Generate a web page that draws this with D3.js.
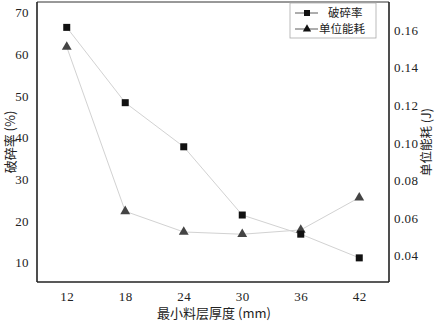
<!DOCTYPE html>
<html>
<head>
<meta charset="utf-8">
<script src="https://cdn.jsdelivr.net/npm/d3@7"></script>
<style>
  body { margin: 0; background: #fff; }
</style>
</head>
<body>
<div id="chart"></div>
<script>
// data
const thickness = [12, 18, 24, 30, 36, 42]
const breakRate = [66.5, 48.4, 37.8, 21.4, 16.8, 11.1]
const energy = [0.151, 0.0636, 0.0526, 0.0514, 0.0537, 0.0709]
const leftTicks = [10, 20, 30, 40, 50, 60, 70]
const rightTicks = [0.04, 0.06, 0.08, 0.10, 0.12, 0.14, 0.16]

const serif = 'Liberation Serif'
const cjk = "'Noto Sans CJK SC', sans-serif"

const width = 435
const height = 321
const margin = { top: 2, left: 37, right: 46, bottom: 39 }
const w = width - margin.left - margin.right
const h = height - margin.top - margin.bottom

const svg = d3.select('#chart')
  .append('svg')
  .attr('width', width)
  .attr('height', height)

const g = svg.append('g')
  .attr('transform', 'translate(' + margin.left + ',' + margin.top + ')')

const x = d3.scaleLinear().domain([8.95, 45.05]).range([0, w])
const yL = d3.scaleLinear().domain([5.3, 72.6]).range([h, 0])
const yR = d3.scaleLinear().domain([0.026, 0.1749]).range([h, 0])

const rows = thickness.map((t, i) => ({ t: t, b: breakRate[i], e: energy[i] }))

// lines
const lineB = d3.line().x(d => x(d.t)).y(d => yL(d.b))
const lineE = d3.line().x(d => x(d.t)).y(d => yR(d.e))

g.append('path').datum(rows).attr('d', lineE)
  .attr('fill', 'none').attr('stroke', '#d2d2d2').attr('stroke-width', 1)
g.append('path').datum(rows).attr('d', lineB)
  .attr('fill', 'none').attr('stroke', '#d2d2d2').attr('stroke-width', 1)

// markers
const tri = d3.symbol().type(d3.symbolTriangle).size(42)
g.selectAll('.tri').data(rows).enter().append('path')
  .attr('class', 'tri')
  .attr('d', tri)
  .attr('transform', d => 'translate(' + x(d.t) + ',' + yR(d.e) + ')')
  .attr('fill', '#444')

g.selectAll('.sq').data(rows).enter().append('rect')
  .attr('class', 'sq')
  .attr('x', d => x(d.t) - 3.5)
  .attr('y', d => yL(d.b) - 3.5)
  .attr('width', 7).attr('height', 7)
  .attr('fill', '#111')

// frame
g.append('line').attr('x1', 0).attr('x2', w).attr('y1', 0).attr('y2', 0)
  .attr('stroke', '#333').attr('stroke-width', 1)
g.append('line').attr('x1', 0).attr('x2', 0).attr('y1', 0).attr('y2', h)
  .attr('stroke', '#222').attr('stroke-width', 1.6)
g.append('line').attr('x1', w).attr('x2', w).attr('y1', 0).attr('y2', h)
  .attr('stroke', '#222').attr('stroke-width', 1.6)
g.append('line').attr('x1', 0).attr('x2', w).attr('y1', h).attr('y2', h)
  .attr('stroke', '#222').attr('stroke-width', 1.6)

// axes (labels only, no tick marks)
const leftAxis = d3.axisLeft(yL).tickValues(leftTicks).tickSize(0).tickPadding(8)
g.append('g').attr('class', 'axis').call(leftAxis)

const rightAxis = d3.axisRight(yR).tickValues(rightTicks).tickSize(0).tickPadding(5)
  .tickFormat(d3.format('.2f'))
g.append('g').attr('class', 'axis').attr('transform', 'translate(' + w + ',0)').call(rightAxis)

const bottomAxis = d3.axisBottom(x).tickValues(thickness).tickSize(0).tickPadding(10)
g.append('g').attr('class', 'axis').attr('transform', 'translate(0,' + h + ')').call(bottomAxis)

g.selectAll('.axis').attr('font-family', serif).attr('font-size', 13)
g.selectAll('.axis .domain').remove()
g.selectAll('.axis text')
  .style('fill', '#222')
  .style('letter-spacing', '0.4px')

// axis titles
svg.append('text')
  .attr('transform', 'translate(15,' + (margin.top + h / 2) + ') rotate(-90)')
  .attr('text-anchor', 'middle')
  .style('font-family', cjk).style('font-size', '13px').style('fill', '#222')
  .text('破碎率 (%)')

svg.append('text')
  .attr('transform', 'translate(431,' + (margin.top + h / 2) + ') rotate(-90)')
  .attr('text-anchor', 'middle')
  .style('font-family', cjk).style('font-size', '12.5px').style('fill', '#222')
  .text('单位能耗 (J)')

svg.append('text')
  .attr('x', margin.left + w / 2 + 1)
  .attr('y', 318)
  .attr('text-anchor', 'middle')
  .style('font-family', cjk).style('font-size', '13px').style('fill', '#222')
  .text('最小料层厚度 (mm)')

// legend
const legend = svg.append('g').attr('transform', 'translate(290,3)')
legend.append('rect').attr('width', 86).attr('height', 35)
  .attr('fill', '#fff').attr('stroke', '#aaa').attr('stroke-width', 0.8)

const legendItems = [
  { label: '破碎率', type: 'sq', tx: 38 },
  { label: '单位能耗', type: 'tri', tx: 29 }
]
legendItems.forEach((it, i) => {
  const yy = 10 + i * 16
  legend.append('line').attr('x1', 5).attr('x2', 28).attr('y1', yy).attr('y2', yy)
    .attr('stroke', '#333').attr('stroke-width', 0.8)
  if (it.type === 'sq') {
    legend.append('rect').attr('x', 14).attr('y', yy - 3).attr('width', 6).attr('height', 6).attr('fill', '#111')
  } else {
    legend.append('path').attr('d', d3.symbol().type(d3.symbolTriangle).size(30))
      .attr('transform', 'translate(17,' + yy + ')').attr('fill', '#111')
  }
  legend.append('text')
    .attr('x', it.tx).attr('y', yy + 4)
    .style('font-family', cjk).style('font-size', '11.5px').style('fill', '#222')
    .text(it.label)
})
</script>
</body>
</html>
